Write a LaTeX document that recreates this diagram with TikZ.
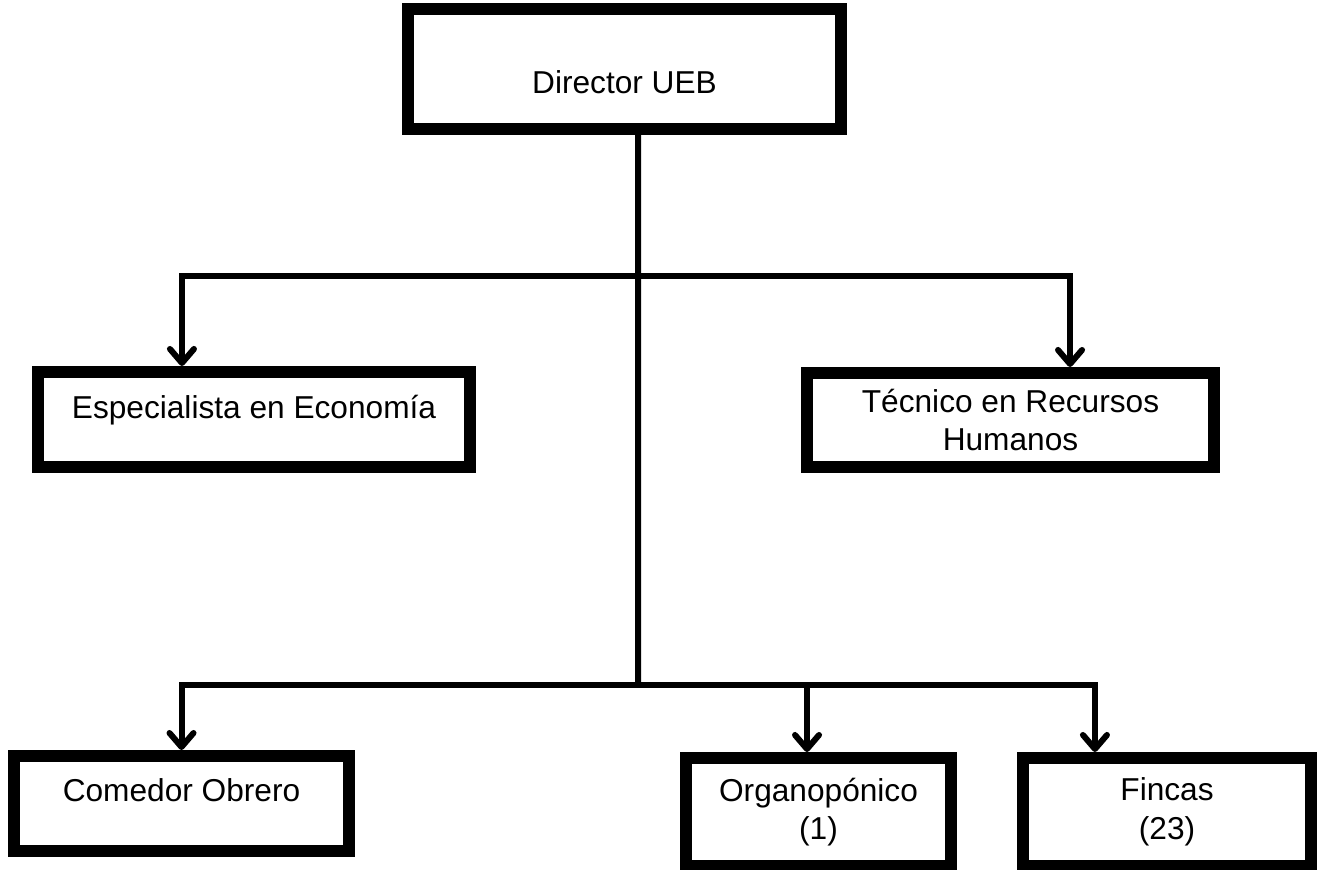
\documentclass[tikz,border=0pt]{standalone}
\usepackage{fontspec}
\setmainfont{Liberation Sans}
\usepackage{tikz}
\usetikzlibrary{arrows.meta}

\begin{document}
\begin{tikzpicture}[x=0.01cm, y=-0.01cm,
        box/.style={draw, line width=0.12cm, align=center, inner sep=0pt,
            font=\fontsize{9}{11}\selectfont},
        link/.style={line width=0.06cm},
        arrow/.style={link, -{Straight Barb[length=0.14cm, width=0.24cm, round]}}]
        \useasboundingbox (0,0) rectangle (1325,869);
        % Boxes
        \node[box, minimum width=4.33cm, minimum height=1.2cm] (dir) at (624.5,69)
            {\raisebox{-0.13cm}[\height][\depth]{Director UEB}};
        \node[box, minimum width=4.32cm, minimum height=0.95cm] (esp) at (254,419.5)
            {\raisebox{0.09cm}[\height][\depth]{Especialista en Economía}};
        \node[box, minimum width=4.07cm, minimum height=0.94cm] (tec) at (1010.5,420)
            {Técnico en Recursos\\Humanos};
        \node[box, minimum width=3.35cm, minimum height=0.95cm] (com) at (181.5,803.5)
            {\raisebox{0.13cm}[\height][\depth]{Comedor Obrero}};
        \node[box, minimum width=2.65cm, minimum height=1.08cm] (org) at (818.5,812)
            {Organopónico\\(1)};
        \node[box, minimum width=2.88cm, minimum height=1.08cm] (fin) at (1167,812)
            {Fincas\\(23)};
        % Branch points
        \coordinate (upper) at (638,276);
        \coordinate (lower) at (638,685);
        % Connectors
        \draw[link] ([xshift=0.135cm]dir.south) -- (lower);
        \draw[arrow] (upper) -| ([xshift=-0.72cm]esp.north);
        \draw[arrow] (upper) -| ([xshift=0.595cm]tec.north);
        \draw[arrow] (lower) -| (com.north);
        \draw[arrow] (lower) -| ([xshift=-0.115cm]org.north);
        \draw[arrow] (lower) -| ([xshift=-0.72cm]fin.north);
    \end{tikzpicture}
\end{document}
